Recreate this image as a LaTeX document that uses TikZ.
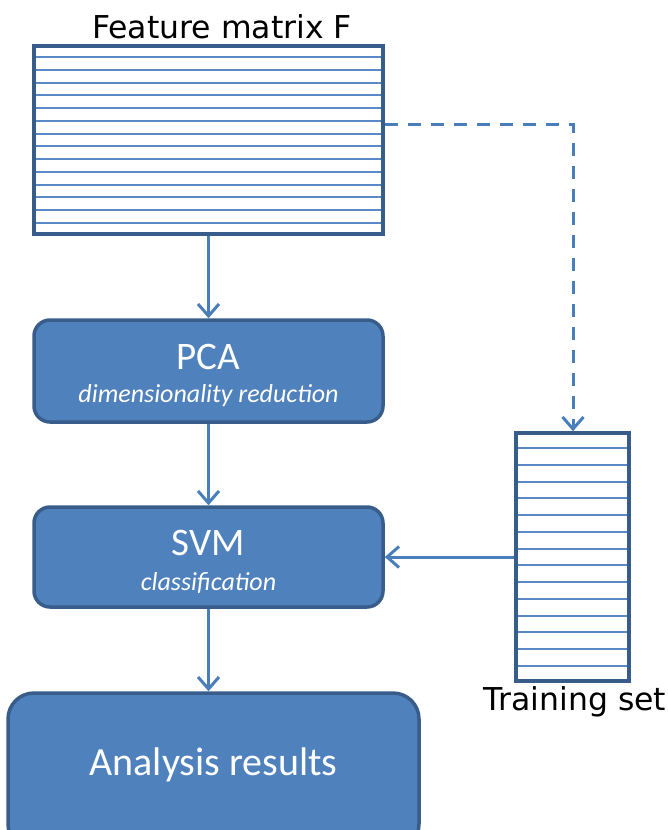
\documentclass[tikz,border=0pt]{standalone}
\usepackage{fontspec}
\setmainfont{Carlito}
\newfontfamily\labfont{DejaVu Sans}
\usetikzlibrary{arrows.meta,calc}
\definecolor{boxfill}{HTML}{4F81BD}
\definecolor{boxedge}{HTML}{385D8A}
\definecolor{arrcol}{HTML}{4A7EBB}
\definecolor{rowcol}{HTML}{5A8AC6}
\begin{document}
\begin{tikzpicture}[x=1pt,y=-1pt,
  stepbox/.style={draw=boxedge,fill=boxfill,line width=3.5pt,rounded corners=16pt,text=white,align=center,inner sep=0pt},
  matbox/.style={draw=boxedge,fill=white,line width=3.5pt,inner sep=0pt},
  matedge/.style={draw=boxedge,fill=none,line width=3.5pt,inner sep=0pt},
  conn/.style={draw=arrcol,line width=3pt,-{Straight Barb[length=12pt,width=21pt,line width=3pt]}},
  lab/.style={font=\labfont\fontsize{31.5}{34}\selectfont,inner sep=0pt}]
\clip (0,0) rectangle (667,830);
\useasboundingbox (0,0) rectangle (667,830);
% Feature matrix
\node[matbox,minimum width=349pt,minimum height=188pt] (F) at (208.5,140) {};
\foreach \i in {1,...,14}{
  \draw[rowcol,line width=2pt] ($(F.north west)!\i/15!(F.south west)$) -- ($(F.north east)!\i/15!(F.south east)$);
}
\node[matedge,minimum width=349pt,minimum height=188pt] at (208.5,140) {};
\node[lab,anchor=base] (Flab) at (222,38) {Feature matrix F};
% Training set
\node[matbox,minimum width=113pt,minimum height=248pt] (T) at (572.5,557) {};
\foreach \i in {1,...,14}{
  \draw[rowcol,line width=2pt] ($(T.north west)!\i/15!(T.south west)$) -- ($(T.north east)!\i/15!(T.south east)$);
}
\node[matedge,minimum width=113pt,minimum height=248pt] at (572.5,557) {};
\node[lab,anchor=base] (Tlab) at (575,710) {Training set};
% Steps
\node[stepbox,minimum width=349pt,minimum height=102pt] (PCA) at (208.5,371) {};
\node[text=white,font=\fontsize{39}{42}\selectfont,inner sep=0pt] (PCAt) at (208.5,357) {PCA};
\node[text=white,font=\itshape\fontsize{26}{30}\selectfont,inner sep=0pt] (PCAs) at (208.5,396) {dimensionality reduction};
\node[stepbox,minimum width=349pt,minimum height=100pt] (SVM) at (208.5,557) {};
\node[text=white,font=\fontsize{39}{42}\selectfont,inner sep=0pt] (SVMt) at (208.5,543) {SVM};
\node[text=white,font=\itshape\fontsize{26}{30}\selectfont,inner sep=0pt] (SVMs) at (208.5,583) {classification};
\node[stepbox,rounded corners=26pt,minimum width=411pt,minimum height=157pt] (AR) at (213.5,771.5) {};
\node[text=white,font=\fontsize{40}{44}\selectfont,inner sep=0pt] (ARt) at (213.5,765) {Analysis results};
% Connectors
\draw[conn] (F.south -| PCA.north) -- (PCA.north);
\draw[conn] (PCA.south) -- (SVM.north);
\draw[conn] (SVM.south) -- (SVM.south |- AR.north);
\draw[conn] (T.west |- SVM.east) -- (SVM.east);
\coordinate (corner) at (573,124);
\draw[conn,dash pattern=on 13pt off 10pt] (F.east |- corner) -- (corner) -- (corner |- T.north);
\end{tikzpicture}
\end{document}
